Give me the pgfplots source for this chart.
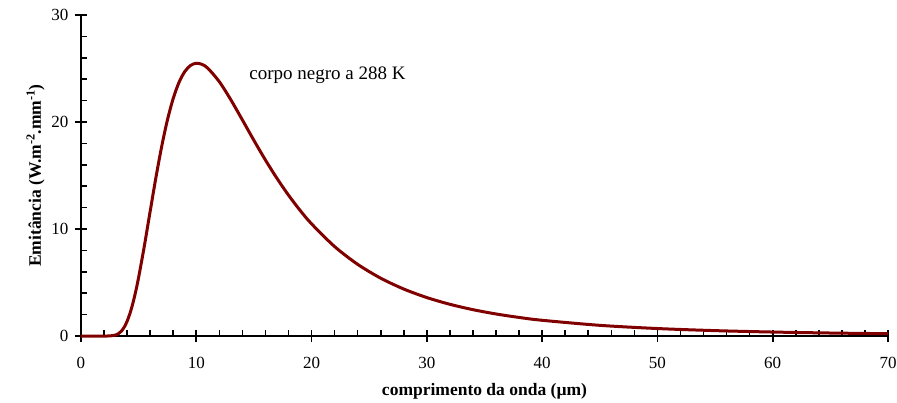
\documentclass[border=0pt]{standalone}
\usepackage{pgfplots}
\pgfplotsset{compat=1.18}
\usepackage{fontspec}
\setmainfont{Liberation Serif}

\definecolor{curvered}{RGB}{128,0,0}

% Spectral emittance of a black body at 288 K (W m^-2 per micrometre)
\pgfplotstableread{
lambda  M
0       0
1       0
2       0.0002
2.5     0.008
3       0.090
3.25    0.217
3.5     0.451
3.75    0.827
4       1.376
4.25    2.119
4.5     3.058
4.75    4.189
5       5.482
5.5     8.443
6       11.651
6.5     14.818
7       17.718
7.5     20.205
8       22.203
8.5     23.697
9       24.709
9.5     25.286
10      25.490
10.5    25.383
11      25.027
12      23.764
13      22.071
14      20.190
15      18.282
16      16.444
17      14.730
18      13.162
19      11.747
20      10.481
22      8.358
24      6.697
26      5.401
28      4.388
30      3.592
32      2.962
34      2.461
36      2.059
38      1.734
40      1.469
45      0.997
50      0.698
55      0.502
60      0.370
65      0.279
70      0.214
}\planck

\begin{document}
\begin{tikzpicture}
\path[use as bounding box] (-81pt,-66pt) rectangle (816pt,336pt);
\begin{axis}[
  scale only axis,
  width=807pt, height=321pt,
  xmin=0, xmax=70, ymin=0, ymax=30,
  axis lines=left,
  axis line style={-, line width=1.6pt},
  xtick={0,10,...,70},
  ytick={0,10,20,30},
  minor x tick num=4,
  minor y tick num=4,
  tick align=inside,
  major tick length=6pt,
  minor tick length=6pt,
  every tick/.style={black, line width=1.6pt},
  extra x ticks={0,10,...,70},
  extra x tick labels={},
  extra x tick style={tick align=outside, major tick length=6pt},
  extra y ticks={0,10,20,30},
  extra y tick labels={},
  extra y tick style={tick align=outside, major tick length=6pt},
  /pgf/number format/assume math mode=true,
  tick label style={font=\fontsize{17}{20}\selectfont},
  xticklabel style={yshift=-18pt},
  yticklabel style={xshift=-9pt},
  xlabel={\textbf{comprimento da onda (\textmu m)}},
  ylabel={\textbf{Emitância (W.m\textsuperscript{-2}.mm\textsuperscript{-1})}},
  label style={font=\fontsize{17.5}{20}\selectfont},
  xlabel style={at={(rel axis cs:0.5,0)}, anchor=base, yshift=-59pt},
  ylabel style={at={(rel axis cs:0,0.5)}, anchor=base, xshift=0pt, yshift=40pt},
  clip=false,
]
\addplot[curvered, line width=3pt, smooth, line join=round] table[x=lambda, y=M] {\planck};
\node[anchor=base west, font=\fontsize{19}{22}\selectfont] at (axis cs:14.3,24) {corpo negro a 288 K};
\end{axis}
\end{tikzpicture}
\end{document}
